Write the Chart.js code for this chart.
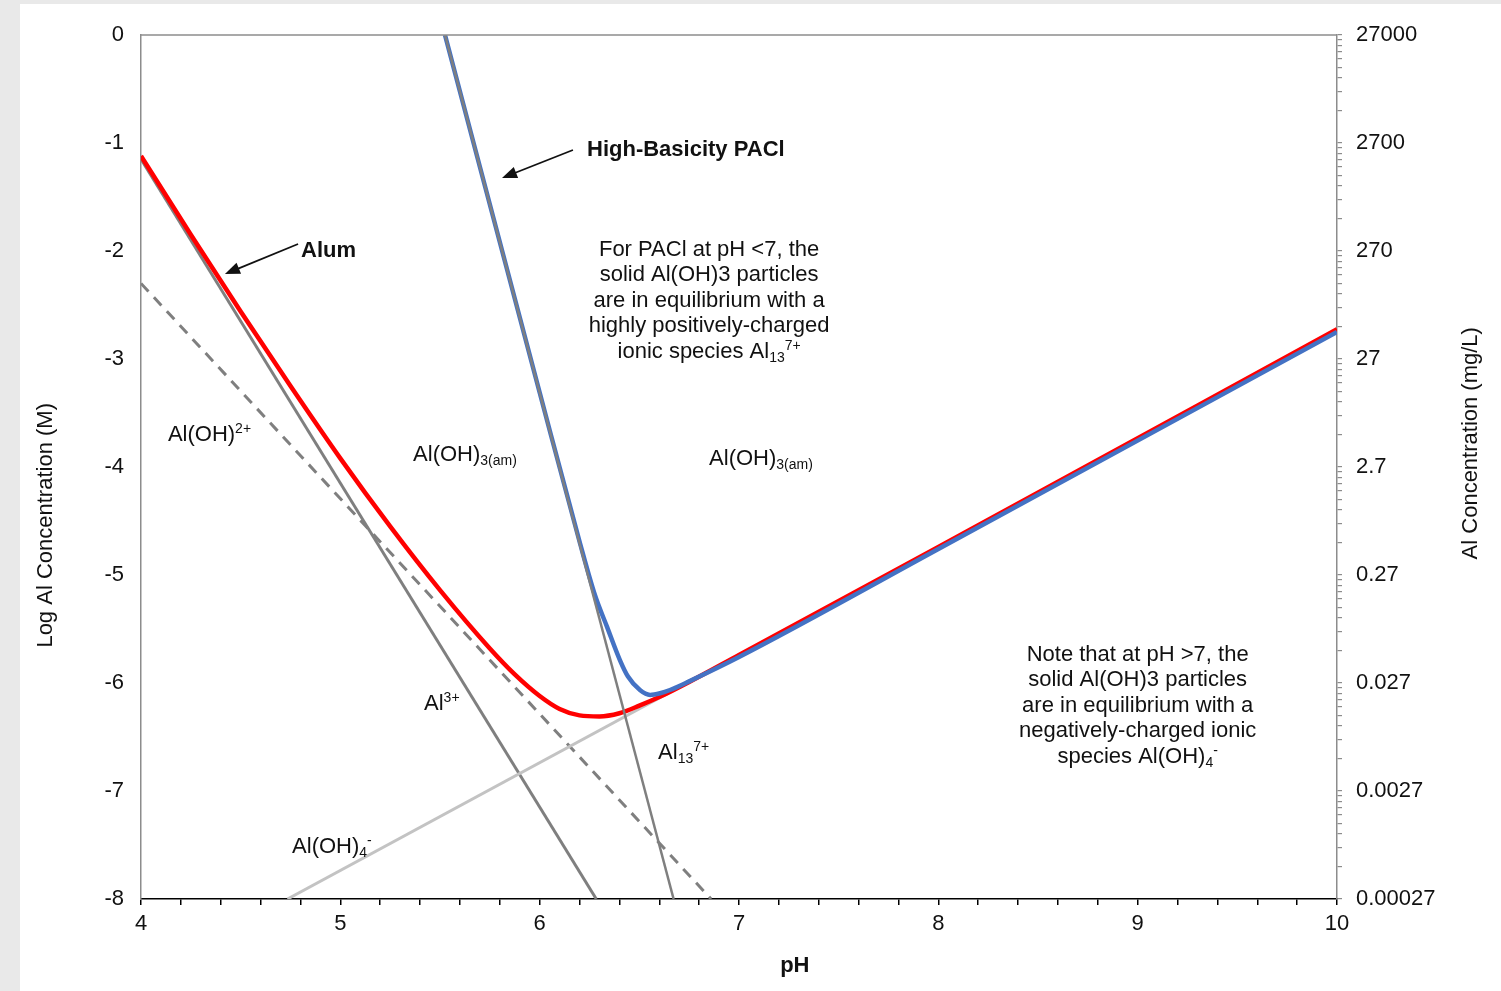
<!DOCTYPE html>
<html><head><meta charset="utf-8">
<script src="https://cdn.jsdelivr.net/npm/chart.js@4/dist/chart.umd.min.js"></script>
<style>html,body{margin:0;padding:0;background:#e9e9e9;overflow:hidden}canvas{display:block}</style>
</head><body>
<canvas id="c" width="1501" height="991"></canvas>
<script>
const FONT = '"Liberation Sans", Arial, sans-serif';

// ---- tick labels ----
const xTickLabels = ['4', '5', '6', '7', '8', '9', '10'];
const yTickLabels = ['0', '-1', '-2', '-3', '-4', '-5', '-6', '-7', '-8'];
const rightTickLabels = ['27000', '2700', '270', '27', '2.7', '0.27', '0.027', '0.0027', '0.00027'];

// ---- series (pH, log Al concentration) ----
const phAl3 = [4.0, 6.284];
const logAl3 = [-1.15, -8.0];

const phAlOH2 = [4.0, 6.86];
const logAlOH2 = [-2.30, -8.0];

const phAlOH4 = [4.735, 10.0];
const logAlOH4 = [-8.0, -2.745];

const phAl13 = [5.525, 6.672];
const logAl13 = [0.0, -8.0];

const phAlum = [4.0, 4.25, 4.5, 4.75, 5.0, 5.25, 5.5, 5.75, 5.875, 6.0, 6.1, 6.2, 6.3, 6.4, 6.5, 6.6, 6.75, 7.0, 7.5, 8.0, 10.0];
const logAlum = [-1.12, -1.85, -2.56, -3.25, -3.92, -4.55, -5.14, -5.68, -5.92, -6.12, -6.24, -6.30, -6.31, -6.28, -6.21, -6.13, -5.99, -5.74, -5.24, -4.74, -2.725];

const phPACl = [5.525, 6.0, 6.2, 6.278, 6.338, 6.403, 6.443, 6.503, 6.554, 6.604, 6.654, 6.75, 7.0, 8.0, 10.0];
const logPACl = [0.0, -3.31, -4.69, -5.19, -5.48, -5.79, -5.94, -6.065, -6.11, -6.095, -6.065, -5.985, -5.76, -4.76, -2.75];

const pts = (xs, ys) => xs.map((x, i) => ({x: x, y: ys[i]}));

// ---- annotations (data coordinates) ----
const speciesLabels = [
  {x: 4.135, y: -3.685, parts: [['Al(OH)', 'n'], ['2+', 'sup']]},
  {x: 5.365, y: -3.87, parts: [['Al(OH)', 'n'], ['3(am)', 'sub']]},
  {x: 6.85, y: -3.907, parts: [['Al(OH)', 'n'], ['3(am)', 'sub']]},
  {x: 5.42, y: -6.176, parts: [['Al', 'n'], ['3+', 'sup']]},
  {x: 6.594, y: -6.63, parts: [['Al', 'n'], ['13', 'sub'], ['7+', 'sup']]},
  {x: 4.758, y: -7.50, parts: [['Al(OH)', 'n'], ['4', 'sub'], ['-', 'sup']]}
];
const note1 = [
  [['For PACl at pH <7, the', 'n']],
  [['solid Al(OH)3 particles', 'n']],
  [['are in equilibrium with a', 'n']],
  [['highly positively-charged', 'n']],
  [['ionic species Al', 'n'], ['13', 'sub'], ['7+', 'sup']]
];
const note2 = [
  [['Note that at pH >7, the', 'n']],
  [['solid Al(OH)3 particles', 'n']],
  [['are in equilibrium with a', 'n']],
  [['negatively-charged ionic', 'n']],
  [['species Al(OH)', 'n'], ['4', 'sub'], ['-', 'sup']]
];

function fontFor(kind) {
  if (kind === 'b') return 'bold 22px ' + FONT;
  if (kind === 'sub' || kind === 'sup') return '14px ' + FONT;
  return '22px ' + FONT;
}
function drawRich(ctx, parts, x, yc, align) {
  let w = 0;
  const items = parts.map(p => { ctx.font = fontFor(p[1]); const mw = ctx.measureText(p[0]).width; w += mw; return {t: p[0], k: p[1], w: mw}; });
  let cx = align === 'center' ? x - w / 2 : x;
  const base = yc + 8;
  ctx.textBaseline = 'alphabetic';
  ctx.textAlign = 'left';
  items.forEach(it => {
    ctx.font = fontFor(it.k);
    let by = base;
    if (it.k === 'sup') by = base - 8;
    if (it.k === 'sub') by = base + 4;
    ctx.fillText(it.t, cx, by);
    cx += it.w;
  });
}
function arrow(ctx, x1, y1, x2, y2) {
  const ang = Math.atan2(y2 - y1, x2 - x1);
  const L = 15, W = 6;
  ctx.strokeStyle = '#111'; ctx.fillStyle = '#111'; ctx.lineWidth = 1.8;
  ctx.beginPath(); ctx.moveTo(x1, y1);
  ctx.lineTo(x2 - (L - 2) * Math.cos(ang), y2 - (L - 2) * Math.sin(ang)); ctx.stroke();
  ctx.beginPath(); ctx.moveTo(x2, y2);
  ctx.lineTo(x2 - L * Math.cos(ang) - W * Math.sin(ang), y2 - L * Math.sin(ang) + W * Math.cos(ang));
  ctx.lineTo(x2 - L * Math.cos(ang) + W * Math.sin(ang), y2 - L * Math.sin(ang) - W * Math.cos(ang));
  ctx.closePath(); ctx.fill();
}

const decor = {
  id: 'decor',
  beforeDraw(chart) {
    const ctx = chart.ctx;
    ctx.save();
    ctx.fillStyle = '#e9e9e9'; ctx.fillRect(0, 0, chart.width, chart.height);
    ctx.fillStyle = '#ffffff'; ctx.fillRect(20, 4, chart.width - 20, chart.height - 4);
    ctx.restore();
  },
  afterDraw(chart) {
    const ctx = chart.ctx, xs = chart.scales.x, ys = chart.scales.y, a = chart.chartArea;
    const px = v => xs.getPixelForValue(v), py = v => ys.getPixelForValue(v);
    ctx.save();
    // top frame
    ctx.strokeStyle = '#8c8c8c'; ctx.lineWidth = 1.5;
    ctx.beginPath(); ctx.moveTo(a.left, a.top); ctx.lineTo(a.right, a.top); ctx.stroke();
    ctx.fillStyle = '#111';
    speciesLabels.forEach(l => drawRich(ctx, l.parts, px(l.x), py(l.y), 'left'));
    note1.forEach((line, i) => drawRich(ctx, line, px(6.85), py(-1.972) + i * 25.4, 'center'));
    note2.forEach((line, i) => drawRich(ctx, line, px(9.0), py(-5.722) + i * 25.4, 'center'));
    drawRich(ctx, [['High-Basicity PACl', 'b']], px(6.2375), py(-1.046), 'left');
    drawRich(ctx, [['Alum', 'b']], px(4.803), py(-1.98), 'left');
    arrow(ctx, px(6.167), py(-1.065), px(5.811), py(-1.324));
    arrow(ctx, px(4.788), py(-1.935), px(4.421), py(-2.213));
    // axis titles
    ctx.fillStyle = '#111';
    ctx.font = '22px ' + FONT; ctx.textAlign = 'center'; ctx.textBaseline = 'middle';
    ctx.save(); ctx.translate(ys.left + 46, py(-4.54)); ctx.rotate(-Math.PI / 2);
    ctx.fillText('Log Al Concentration (M)', 0, 0); ctx.restore();
    const r = chart.scales.y2;
    ctx.save(); ctx.translate(r.left + 134, py(-3.78)); ctx.rotate(-Math.PI / 2);
    ctx.fillText('Al Concentration (mg/L)', 0, 0); ctx.restore();
    ctx.font = 'bold 22px ' + FONT;
    ctx.fillText('pH', px(7.28), xs.top + 67);
    ctx.restore();
  }
};

const xTickValues = [];
for (let i = 0; i <= 30; i++) xTickValues.push(4 + i * 0.2);
const rightTickValues = [];
for (let n = 0; n >= -8; n--) {
  rightTickValues.push(n);
  if (n > -8) for (let k = 2; k <= 9; k++) rightTickValues.push(n - 1 + Math.log10(k));
}
const isInt = v => Math.abs(v - Math.round(v)) < 1e-6;

new Chart(document.getElementById('c'), {
  type: 'line',
  data: {
    datasets: [
      {label: 'Al13', data: pts(phAl13, logAl13), borderColor: '#7f7f7f', borderWidth: 2.5, order: 0},
      {label: 'PACl', data: pts(phPACl, logPACl), borderColor: '#4472c4', borderWidth: 4.5, cubicInterpolationMode: 'monotone', order: 1},
      {label: 'Alum', data: pts(phAlum, logAlum), borderColor: '#ff0000', borderWidth: 4.5, cubicInterpolationMode: 'monotone', order: 2},
      {label: 'Al(OH)4-', data: pts(phAlOH4, logAlOH4), borderColor: '#c3c3c3', borderWidth: 3, order: 3},
      {label: 'Al3+', data: pts(phAl3, logAl3), borderColor: '#7f7f7f', borderWidth: 3, order: 5},
      {label: 'Al(OH)2+', data: pts(phAlOH2, logAlOH2), borderColor: '#7f7f7f', borderWidth: 3, borderDash: [11, 8], order: 6}
    ]
  },
  options: {
    responsive: false,
    animation: false,
    devicePixelRatio: 1,
    layout: {padding: {top: 35, left: 0, right: 0, bottom: 0}},
    elements: {point: {radius: 0}, line: {fill: false}},
    plugins: {legend: {display: false}, tooltip: {enabled: false}},
    scales: {
      x: {
        type: 'linear', min: 4, max: 10, position: 'bottom',
        afterBuildTicks: s => { s.ticks = xTickValues.map(v => ({value: v})); },
        afterFit: s => { s.height = 92; },
        ticks: {autoSkip: false, maxRotation: 0, minRotation: 0, padding: 6, color: '#111', font: {family: FONT, size: 22},
          callback: v => isInt(v) ? xTickLabels[Math.round(v) - 4] : ''},
        grid: {drawOnChartArea: false, drawTicks: true, tickLength: 6, color: '#000', lineWidth: 1.5},
        border: {display: true, color: '#000', width: 1.5}
      },
      y: {
        type: 'linear', min: -8, max: 0, position: 'left',
        afterBuildTicks: s => { s.ticks = yTickLabels.map((t, i) => ({value: -i})); },
        afterFit: s => { s.width = 141; },
        ticks: {autoSkip: false, padding: 17, color: '#111', font: {family: FONT, size: 22},
          callback: v => yTickLabels[Math.round(-v)]},
        grid: {drawOnChartArea: false, drawTicks: false},
        border: {display: true, color: '#8c8c8c', width: 1.5}
      },
      y2: {
        type: 'linear', min: -8, max: 0, position: 'right',
        afterBuildTicks: s => { s.ticks = rightTickValues.map(v => ({value: v})); },
        afterFit: s => { s.width = 164; },
        ticks: {autoSkip: false, padding: 14, color: '#111', font: {family: FONT, size: 22},
          callback: v => isInt(v) ? rightTickLabels[Math.round(-v)] : ''},
        grid: {drawOnChartArea: false, drawTicks: true, tickLength: 5, color: '#8c8c8c', lineWidth: 1.2},
        border: {display: true, color: '#8c8c8c', width: 1.5}
      }
    }
  },
  plugins: [decor]
});
</script>
</body></html>
